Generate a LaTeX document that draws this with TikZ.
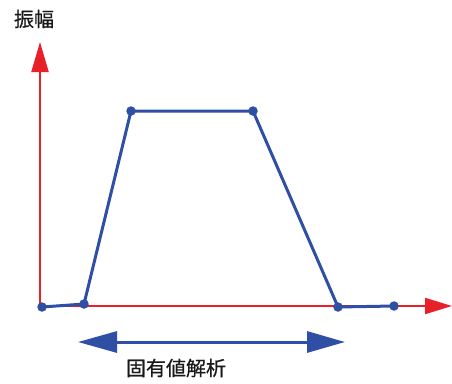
\documentclass[tikz,border=0pt]{standalone}
\usepackage{fontspec}
\newfontfamily\cjk[FakeBold=0.6]{Noto Sans CJK JP}
\usetikzlibrary{arrows.meta}
\definecolor{axred}{HTML}{E8202A}
\definecolor{curveblue}{HTML}{2E4FA3}
\tikzset{
  axis/.style={draw=axred, line width=2pt},
  curve/.style={draw=curveblue, line width=3pt, line join=round},
  dot/.style={circle, fill=curveblue, inner sep=0pt, minimum size=9.5pt},
  lbl/.style={font=\cjk\fontsize{20}{22}\selectfont, inner sep=0pt, text=black!90}
}
\begin{document}
\begin{tikzpicture}[x=1pt,y=-1pt]
\useasboundingbox (0,0) rectangle (452,383);
% axes
\coordinate (o) at (40,306);
\coordinate (ytip) at (40,42);
\coordinate (xtip) at (452,306);
\draw[axis, -{Triangle[length=30pt,width=17pt]}] (o) -- (ytip);
\draw[axis, -{Triangle[length=27pt,width=16pt]}] (o) -- (xtip);
% curve points
\node[dot] (p1) at (42,307) {};
\node[dot] (p2) at (84,304) {};
\node[dot] (p3) at (131,111) {};
\node[dot] (p4) at (253,111) {};
\node[dot] (p5) at (338,307) {};
\node[dot] (p6) at (394,306) {};
\draw[curve] (p1.center) -- (p2.center) -- (p3.center) -- (p4.center) -- (p5.center) -- (p6.center);
% double arrow
\coordinate (al) at (78,342);
\coordinate (ar) at (345,342);
\draw[draw=curveblue, line width=3pt, {Triangle[length=39pt,width=21pt]}-{Triangle[length=38pt,width=21pt]}] (al) -- (ar);
% labels
\node[lbl] (amp) at (34,19) {振幅};
\node[lbl] (eig) at (176,368) {固有値解析};
\end{tikzpicture}
\end{document}
